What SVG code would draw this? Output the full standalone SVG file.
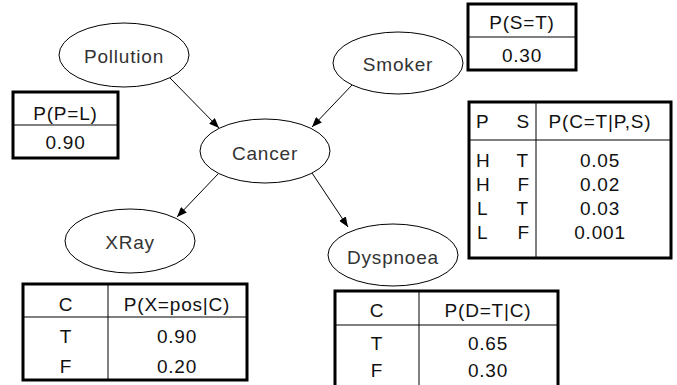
<svg xmlns="http://www.w3.org/2000/svg" width="677" height="385" viewBox="0 0 677 385">
<style>
.node ellipse{fill:#fff;stroke:#000;stroke-width:1}
.lbl{font-family:"Liberation Sans",Arial,sans-serif;font-size:19px;fill:#333;text-anchor:middle;letter-spacing:0.8px}
.t{font-family:"Liberation Sans",Arial,sans-serif;font-size:19px;fill:#111;letter-spacing:0.8px}
.m{text-anchor:middle}
.e{text-anchor:end}
.box{fill:#fff;stroke:#000;stroke-width:3}
.in{stroke:#000;stroke-width:1}
.edges line{stroke:#000;stroke-width:1;marker-end:url(#ah)}
</style>
<defs>
<marker id="ah" markerUnits="userSpaceOnUse" markerWidth="10" markerHeight="8" refX="10" refY="4" orient="auto">
<path d="M0,0 L10,4 L0,8 z" fill="#000"/>
</marker>
</defs>
<rect width="677" height="385" fill="#fff"/>
<g class="edges">
<line x1="170" y1="78" x2="219" y2="128"/>
<line x1="353" y1="84" x2="312" y2="127"/>
<line x1="218" y1="174" x2="177" y2="217"/>
<line x1="312" y1="173" x2="348" y2="227"/>
</g>
<g id="pollution" class="node"><ellipse cx="124" cy="55" rx="65" ry="32"/><text class="lbl" x="124" y="63">Pollution</text></g>
<g id="smoker" class="node"><ellipse cx="398" cy="63" rx="65" ry="31"/><text class="lbl" x="398" y="71">Smoker</text></g>
<g id="cancer" class="node"><ellipse cx="265" cy="151" rx="65" ry="32"/><text class="lbl" x="265" y="160">Cancer</text></g>
<g id="xray" class="node"><ellipse cx="130" cy="241" rx="65" ry="32"/><text class="lbl" x="130" y="249">XRay</text></g>
<g id="dyspnoea" class="node"><ellipse cx="393" cy="255" rx="65" ry="31"/><text class="lbl" x="393" y="264">Dyspnoea</text></g>

<g id="cpt-p">
<rect class="box" x="13" y="92" width="105" height="66"/>
<line class="in" x1="13" y1="125" x2="118" y2="125"/>
<text class="t m" x="65.5" y="120">P(P=L)</text>
<text class="t m" x="65.5" y="149">0.90</text>
</g>
<g id="cpt-s">
<rect class="box" x="468" y="4" width="108" height="66"/>
<line class="in" x1="468" y1="37" x2="576" y2="37"/>
<text class="t m" x="522" y="29">P(S=T)</text>
<text class="t m" x="522" y="62">0.30</text>
</g>
<g id="cpt-c">
<rect class="box" x="469" y="102" width="202" height="156"/>
<line class="in" x1="469" y1="140" x2="671" y2="140"/>
<line class="in" x1="536" y1="102" x2="536" y2="258"/>
<text class="t" x="476" y="128">P</text><text class="t e" x="530" y="128">S</text><text class="t m" x="600" y="128">P(C=T|P,S)</text>
<text class="t" x="476" y="167">H</text><text class="t e" x="529" y="167">T</text><text class="t m" x="600" y="167">0.05</text>
<text class="t" x="476" y="191">H</text><text class="t e" x="530" y="191">F</text><text class="t m" x="600" y="191">0.02</text>
<text class="t" x="477" y="215">L</text><text class="t e" x="529" y="215">T</text><text class="t m" x="600" y="215">0.03</text>
<text class="t" x="477" y="239">L</text><text class="t e" x="530" y="239">F</text><text class="t m" x="600" y="239">0.001</text>
</g>
<g id="cpt-x">
<rect class="box" x="23" y="284" width="224" height="96"/>
<line class="in" x1="23" y1="317" x2="247" y2="317"/>
<line class="in" x1="108" y1="284" x2="108" y2="380"/>
<text class="t m" x="66" y="311">C</text><text class="t m" x="177" y="311">P(X=pos|C)</text>
<text class="t m" x="66" y="343">T</text><text class="t m" x="177" y="343">0.90</text>
<text class="t m" x="66" y="373">F</text><text class="t m" x="177" y="373">0.20</text>
</g>
<g id="cpt-d">
<rect class="box" x="335" y="291" width="223" height="110"/>
<line class="in" x1="335" y1="325" x2="558" y2="325"/>
<line class="in" x1="419" y1="291" x2="419" y2="400"/>
<text class="t m" x="377" y="317">C</text><text class="t m" x="488" y="317">P(D=T|C)</text>
<text class="t m" x="377" y="350">T</text><text class="t m" x="488" y="350">0.65</text>
<text class="t m" x="377" y="377">F</text><text class="t m" x="488" y="377">0.30</text>
</g>
</svg>
